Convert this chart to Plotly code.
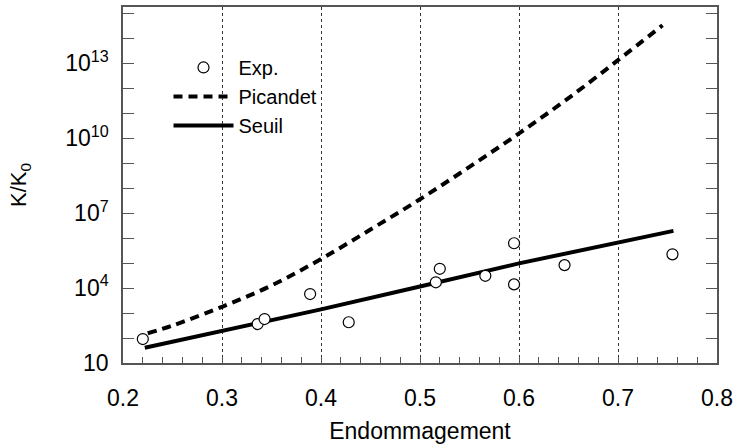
import plotly.graph_objects as go

# Experimental points (Endommagement, K/K0)
exp_x = [0.220, 0.336, 0.343, 0.389, 0.428, 0.516, 0.520, 0.566, 0.595, 0.595, 0.646, 0.755]
exp_y = [91, 363, 575, 5750, 427, 17000, 59000, 31000, 620000, 14000, 83000, 224000]

# Picandet model (dashed)
pic_x = [0.225, 0.25, 0.30, 0.35, 0.40, 0.45, 0.50, 0.55, 0.60, 0.65, 0.70, 0.745]
pic_y = [155, 316, 1780, 12600, 1.45e5, 2.2e6, 3.6e7, 7.1e8, 1.55e10, 4.0e11, 1.32e13, 3.3e14]

# Seuil model (solid)
seuil_x = [0.222, 0.40, 0.50, 0.60, 0.756]
seuil_y = [41, 1400, 11500, 97000, 1.95e6]

x_ticks = [0.2, 0.3, 0.4, 0.5, 0.6, 0.7, 0.8]
y_labelled = [10, 1e4, 1e7, 1e10, 1e13]
y_labels = ["10", "10<sup>4</sup>", "10<sup>7</sup>", "10<sup>10</sup>", "10<sup>13</sup>"]
y_decades = [10 ** k for k in range(1, 16)]

FONT = "Liberation Sans, Arial, Helvetica, sans-serif"

fig = go.Figure()
fig.add_trace(go.Scatter(x=seuil_x, y=seuil_y, mode="lines", name="Seuil",
                         line=dict(color="black", width=4), legendrank=3))
fig.add_trace(go.Scatter(x=pic_x, y=pic_y, mode="lines", name="Picandet",
                         line=dict(color="black", width=4, dash="9px,6px"),
                         line_shape="spline", legendrank=2))
fig.add_trace(go.Scatter(x=exp_x, y=exp_y, mode="markers", name="Exp.",
                         marker=dict(symbol="circle", size=11, color="white",
                                     line=dict(color="black", width=1.2)),
                         legendrank=1))

# white patch behind the legend hiding the grid lines
fig.add_shape(type="rect", xref="x", yref="y", x0=0.28, x1=0.42,
              y0=10 ** 9.3, y1=10 ** 13.85, fillcolor="white",
              line=dict(width=0), layer="below")

fig.update_layout(
    width=736, height=448,
    margin=dict(l=123, r=19, t=7, b=85),
    paper_bgcolor="white", plot_bgcolor="white",
    font=dict(family=FONT, size=23, color="black"),
    showlegend=True,
    legend=dict(x=0.0766, y=0.885, xanchor="left", yanchor="top",
                bgcolor="rgba(0,0,0,0)", font=dict(size=20),
                tracegroupgap=0, itemwidth=60),
)
fig.update_xaxes(
    range=[0.2, 0.8], tickvals=x_ticks, ticktext=[f"{v:.1f}" for v in x_ticks],
    showline=True, linecolor="#555", linewidth=1.5, mirror=True,
    ticks="inside", ticklen=6, tickcolor="#555", ticklabelstandoff=14,
    tickfont=dict(size=23),
    minor=dict(dtick=0.02, ticks="inside", ticklen=6, tickcolor="#555", showgrid=False),
    showgrid=True, gridcolor="#333", griddash="dot", gridwidth=1,
    zeroline=False, automargin=False,
    title=dict(text="Endommagement", font=dict(size=23), standoff=13),
)
fig.update_yaxes(
    type="log", range=[1, 15.25],
    tickvals=y_labelled, ticktext=y_labels,
    showline=True, linecolor="#555", linewidth=1.5, mirror="ticks",
    ticks="inside", ticklen=11, tickcolor="#555", ticklabelstandoff=8,
    tickfont=dict(size=23),
    minor=dict(tickvals=y_decades, ticks="inside", ticklen=11, tickcolor="#555", showgrid=False),
    showgrid=False, zeroline=False, automargin=False,
    title=dict(text="K/K<sub>0</sub>", font=dict(size=22), standoff=32),
)

# remove the default page margin so the figure fills the 736x448 window exactly
fig.write_html("out.html", config={"displayModeBar": False},
               post_script="document.body.style.margin='0';")
